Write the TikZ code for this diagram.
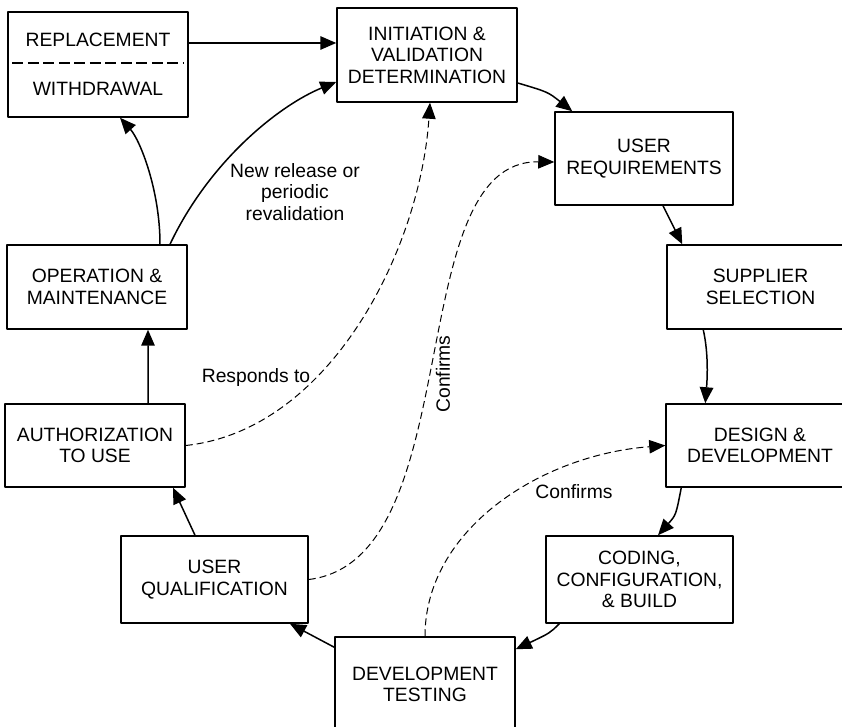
\documentclass[tikz,border=0pt]{standalone}
\usepackage{fontspec}
\setmainfont{Liberation Sans}
\usetikzlibrary{arrows.meta}

\begin{document}
\begin{tikzpicture}[>={Triangle[length=16bp,width=13.5bp]},line join=bevel,
  stage/.style={draw,rectangle,line width=1.5bp,inner sep=0pt,align=center,font=\fontsize{19.3bp}{21.5bp}\selectfont},
  flow/.style={->,line width=1.5bp},
  link/.style={->,line width=1bp,dash pattern=on 7bp off 4bp},
  sepline/.style={line width=1.2bp,dash pattern=on 11bp off 4.5bp},
  note/.style={align=center,font=\fontsize{19.3bp}{21.5bp}\selectfont}]
%%
\useasboundingbox (0bp,0bp) rectangle (842bp,727bp);
\path [fill=white] (0bp,0bp) rectangle (842bp,727bp);
\node (Repl) at (98bp,662.5bp) [stage,minimum width=180bp,minimum height=105bp] {REPLACEMENT\\[27.5bp]WITHDRAWAL};
  \node (Init) at (427bp,672bp) [stage,minimum width=180bp,minimum height=94bp] {INITIATION \&\\VALIDATION\\DETERMINATION};
  \node (UReq) at (644bp,568.5bp) [stage,minimum width=178bp,minimum height=93bp] {USER\\REQUIREMENTS};
  \node (Supp) at (760.5bp,440bp) [stage,minimum width=187bp,minimum height=84bp] {SUPPLIER\\SELECTION};
  \node (Design) at (760bp,281.5bp) [stage,minimum width=188bp,minimum height=83bp] {DESIGN \&\\DEVELOPMENT};
  \node (Coding) at (639.5bp,147.5bp) [stage,minimum width=187bp,minimum height=87bp] {CODING,\\CONFIGURATION,\\\& BUILD};
  \node (DevTest) at (425bp,42.5bp) [stage,minimum width=180bp,minimum height=95bp] {DEVELOPMENT\\TESTING};
  \node (UQual) at (214.5bp,147.5bp) [stage,minimum width=187bp,minimum height=87bp] {USER\\QUALIFICATION};
  \node (Auth) at (95bp,281.5bp) [stage,minimum width=180bp,minimum height=83bp] {AUTHORIZATION\\TO USE};
  \node (Oper) at (97bp,440bp) [stage,minimum width=180bp,minimum height=84bp] {OPERATION \&\\MAINTENANCE};
  \draw [sepline] ([xshift=5bp,yshift=1.5bp]Repl.west) -- ([xshift=-5bp,yshift=1.5bp]Repl.east);
%
  \draw [flow] ([yshift=12bp]Init.west -| Repl.east) -- ([yshift=12bp]Init.west);
  \draw [flow] ([yshift=-28bp]Init.east) .. controls (548bp,635bp) .. ([xshift=18bp]UReq.north west);
  \draw [flow] ([xshift=19bp]UReq.south) -- ([xshift=16bp]Supp.north west);
  \draw [flow] ([xshift=37bp]Supp.south west) .. controls (709bp,372bp) and (707bp,345bp) .. ([xshift=40bp]Design.north west);
  \draw [flow] ([xshift=16bp]Design.south west) .. controls (676bp,212bp) .. ([xshift=18.5bp]Coding.north);
  \draw [flow] ([xshift=14bp]Coding.south west) .. controls (550bp,94bp) .. ([yshift=-13bp]DevTest.north east);
  \draw [flow] ([yshift=-11bp]DevTest.north west) -- ([xshift=75.5bp]UQual.south);
  \draw [flow] ([xshift=-19.5bp]UQual.north) -- ([xshift=78bp]Auth.south);
  \draw [flow] ([xshift=53bp]Auth.north) -- ([xshift=51bp]Oper.south);
  \draw [flow] ([xshift=63bp]Oper.north) .. controls (160bp,537bp) and (140bp,587bp) .. ([xshift=22bp]Repl.south);
  \draw [flow] ([xshift=73bp]Oper.north) .. controls (210bp,567bp) and (280bp,622bp) .. ([yshift=-27bp]Init.west);
%
  \draw [link] (Auth.east) .. controls (330bp,297bp) and (420bp,477bp) .. ([xshift=3bp]Init.south);
  \draw [link] (UQual.east) .. controls (470bp,167bp) and (400bp,567bp) .. ([yshift=-3.5bp]UReq.west);
  \draw [link] (DevTest.north) .. controls (425bp,197bp) and (540bp,272bp) .. (Design.west);
%
  \node (NewRel) at (295bp,535bp) [note] {New release or\\periodic\\revalidation};
  \node (Resp) at (256bp,349bp) [note] {Responds to};
  \node (ConfA) at (443bp,353bp) [note,rotate=90] {Confirms};
  \node (ConfB) at (574bp,235bp) [note] {Confirms};
%
\end{tikzpicture}
\end{document}
